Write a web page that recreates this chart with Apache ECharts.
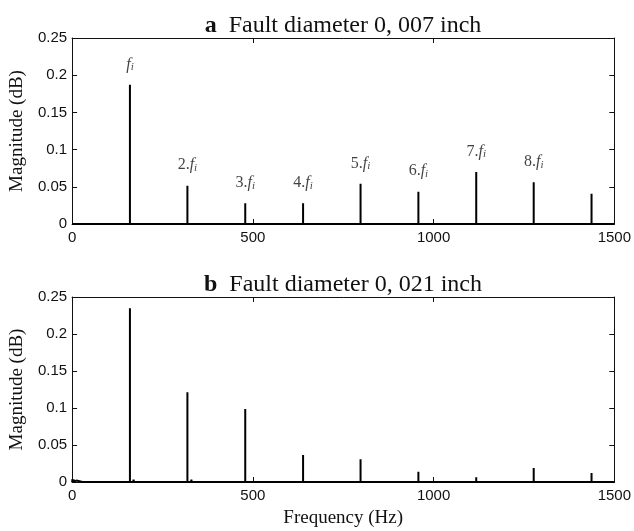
<!DOCTYPE html>
<html><head><meta charset="utf-8">
<script src="https://cdn.jsdelivr.net/npm/echarts@6/dist/echarts.min.js"></script>
<style>html,body{margin:0;padding:0;background:#fff}#c{width:634px;height:531px}</style>
</head><body><div id="c"></div>
<script>
// ---- data ----
const peakFreqA = [160, 319, 479, 639, 798, 958, 1118, 1277, 1437];
const peakMagA  = [0.187, 0.0515, 0.028, 0.028, 0.054, 0.0435, 0.070, 0.056, 0.0405];
const peakLabelsA = ['1', '2', '3', '4', '5', '6', '7', '8', ''];
const noiseA = [[3, 0.002], [40, 0.001], [70, 0.0015], [110, 0.001], [150, 0.002], [200, 0.0015], [260, 0.001], [300, 0.002], [360, 0.001], [420, 0.0015], [560, 0.001], [700, 0.0015], [880, 0.001], [1040, 0.001], [1200, 0.0015], [1350, 0.001], [1490, 0.001]];

const peakFreqB = [160, 319, 479, 639, 798, 958, 1118, 1277, 1437];
const peakMagB  = [0.2347, 0.1212, 0.0986, 0.0365, 0.0307, 0.014, 0.0064, 0.0189, 0.0122];
const noiseB = [[1, 0.004], [5, 0.003], [12, 0.002], [30, 0.0015], [55, 0.002], [90, 0.001], [130, 0.0015], [170, 0.003], [190, 0.002], [230, 0.0015], [290, 0.001], [330, 0.003], [350, 0.002], [400, 0.001], [470, 0.002], [600, 0.001], [760, 0.001], [900, 0.001], [1100, 0.001], [1300, 0.001], [1480, 0.001]];

const xMin = 0, xMax = 1500, xStep = 500;
const yMin = 0, yMax = 0.25, yStep = 0.05;
const titleA = 'Fault diameter 0, 007 inch';
const titleB = 'Fault diameter 0, 021 inch';

// ---- build series data through the axes ----
function buildLine(freqs, mags, noise) {
  const pts = [];
  noise.forEach(p => pts.push({f: p[0], v: p[1], kind: 'n'}));
  freqs.forEach((f, i) => pts.push({f: f, v: mags[i], kind: 'p'}));
  pts.sort((a, b) => a.f - b.f);
  const out = [[xMin, 0]];
  pts.forEach(p => {
    if (p.kind === 'p') { out.push([p.f, 0], [p.f, p.v], [p.f, 0]); }
    else { out.push([p.f - 1, 0], [p.f, p.v], [p.f + 1, 0]); }
  });
  out.push([xMax, 0]);
  return out;
}

const serif = 'Liberation Serif';
const sans = 'Liberation Sans';

function mkX(gi, pos, withLabels, name) {
  return {
    type: 'value', gridIndex: gi, position: pos, min: xMin, max: xMax, interval: xStep,
    axisLine: {show: true, onZero: false, lineStyle: {color: '#111', width: 1}},
    axisTick: {show: true, inside: true, length: 5, lineStyle: {color: '#111'}},
    axisLabel: {show: withLabels, color: '#111', fontFamily: sans, fontSize: 15, margin: 6,
      formatter: v => String(v)},
    splitLine: {show: false},
    name: name || '', nameLocation: 'middle', nameGap: 27,
    nameTextStyle: {fontFamily: serif, fontSize: 19, color: '#111'}
  };
}
function mkY(gi, pos, withLabels) {
  return {
    type: 'value', gridIndex: gi, position: pos, min: yMin, max: yMax, interval: yStep,
    axisLine: {show: true, onZero: false, lineStyle: {color: '#111', width: 1}},
    axisTick: {show: true, inside: true, length: 5, lineStyle: {color: '#111'}},
    axisLabel: {show: withLabels, color: '#111', fontFamily: sans, fontSize: 15, margin: 5,
      formatter: v => String(+v.toFixed(2))},
    splitLine: {show: false},
    name: withLabels ? 'Magnitude (dB)' : '', nameLocation: 'middle', nameGap: 41,
    nameTextStyle: {fontFamily: serif, fontSize: 19, color: '#111'}
  };
}

const labelPts = peakFreqA.map((f, i) => ({value: [f, peakMagA[i]], lab: peakLabelsA[i]}))
  .filter(d => d.lab !== '');

const titleStyle = {fontFamily: serif, fontSize: 24, fontWeight: 'normal', color: '#111',
  rich: {b: {fontFamily: serif, fontSize: 24, fontWeight: 'bold', color: '#111'}}};

const chart = echarts.init(document.getElementById('c'), null, {renderer: 'canvas'});
chart.setOption({
  animation: false,
  backgroundColor: '#fff',
  title: [
    {text: '{b|a}  ' + titleA, left: 338, top: 9, textAlign: 'center', textStyle: titleStyle},
    {text: '{b|b}  ' + titleB, left: 338, top: 268, textAlign: 'center', textStyle: titleStyle}
  ],
  grid: [
    {left: 70, right: 19, top: 38, height: 186},
    {left: 70, right: 19, top: 297, height: 185}
  ],
  xAxis: [mkX(0, 'bottom', true), mkX(0, 'top', false), mkX(1, 'bottom', true, 'Frequency (Hz)'), mkX(1, 'top', false)],
  yAxis: [mkY(0, 'left', true), mkY(0, 'right', false), mkY(1, 'left', true), mkY(1, 'right', false)],
  series: [
    {type: 'line', xAxisIndex: 0, yAxisIndex: 0, data: buildLine(peakFreqA, peakMagA, noiseA),
     showSymbol: false, symbol: 'none', lineStyle: {color: '#000', width: 2}, silent: true},
    {type: 'line', xAxisIndex: 2, yAxisIndex: 2, data: buildLine(peakFreqB, peakMagB, noiseB),
     showSymbol: false, symbol: 'none', lineStyle: {color: '#000', width: 2}, silent: true},
    {type: 'scatter', xAxisIndex: 0, yAxisIndex: 0, symbolSize: 0, silent: true,
     data: labelPts.map(d => ({value: d.value, lab: d.lab})),
     label: {show: true, position: 'top', distance: 12,
       formatter: p => (p.data.lab === '1' ? '' : '{n|' + p.data.lab + '.}') + '{f|f}{s|i}',
       rich: {
         n: {fontFamily: serif, fontSize: 16, color: '#111'},
         f: {fontFamily: serif, fontSize: 16, fontStyle: 'italic', color: '#111'},
         s: {fontFamily: serif, fontSize: 11, fontStyle: 'italic', color: '#111', verticalAlign: 'bottom', padding: [6, 0, 0, 0]}
       }}}
  ]
});
</script></body></html>
